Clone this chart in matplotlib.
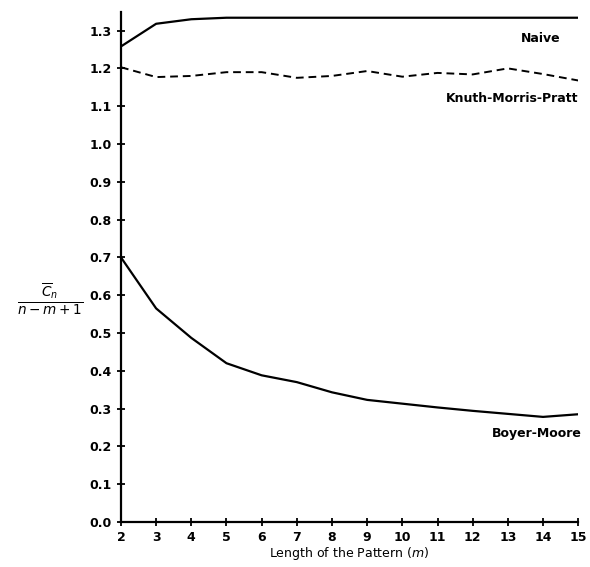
import numpy as np
import matplotlib.pyplot as plt

# pattern lengths
m = [2, 3, 4, 5, 6, 7, 8, 9, 10, 11, 12, 13, 14, 15]

naive = [1.258, 1.318, 1.330, 1.334, 1.334, 1.334, 1.334, 1.334, 1.334, 1.334, 1.334, 1.334, 1.334, 1.334]
kmp = [1.203, 1.177, 1.180, 1.190, 1.190, 1.175, 1.180, 1.193, 1.178, 1.188, 1.184, 1.200, 1.185, 1.168]
boyer_moore = [0.700, 0.565, 0.487, 0.420, 0.388, 0.370, 0.343, 0.323, 0.313, 0.303, 0.294, 0.286, 0.278, 0.285]

yticks = np.round(np.arange(0, 1.31, 0.1), 1)

plt.rcParams['font.family'] = 'DejaVu Sans'
fig = plt.figure(figsize=(5.9, 5.67), dpi=100)
ax = fig.add_axes([0.205, 0.0794, 0.775, 0.9])

ax.plot(m, naive, color='black', lw=1.6)
ax.plot(m, kmp, color='black', lw=1.4, linestyle=(0, (4, 2.5)))
ax.plot(m, boyer_moore, color='black', lw=1.6)

ax.text(14.5, 1.28, 'Naive', ha='right', va='center', fontsize=9, fontweight='bold')
ax.text(15, 1.12, 'Knuth-Morris-Pratt', ha='right', va='center', fontsize=9, fontweight='bold')
ax.text(15.1, 0.235, 'Boyer-Moore', ha='right', va='center', fontsize=9, fontweight='bold')

ax.set_xlim(2, 15)
ax.set_ylim(0, 1.35)
ax.set_xticks(m)
ax.set_yticks(yticks)
ax.set_yticklabels([f'{v:.1f}' for v in yticks], fontweight='bold')
ax.set_xticklabels([str(v) for v in m], fontweight='bold')
ax.tick_params(direction='inout', length=6, width=1.3, labelsize=9)

for s in ['top', 'right']:
    ax.spines[s].set_visible(False)
for s in ['left', 'bottom']:
    ax.spines[s].set_linewidth(1.6)

ax.set_xlabel('Length of the Pattern ($m$)', fontsize=9, labelpad=1)
ax.set_ylabel(r'$\frac{\overline{C}_n}{n-m+1}$', fontsize=14, rotation=0, va='center', ha='center')
ax.yaxis.set_label_coords(-0.155, 0.437)

plt.savefig('out.png', dpi=100)
